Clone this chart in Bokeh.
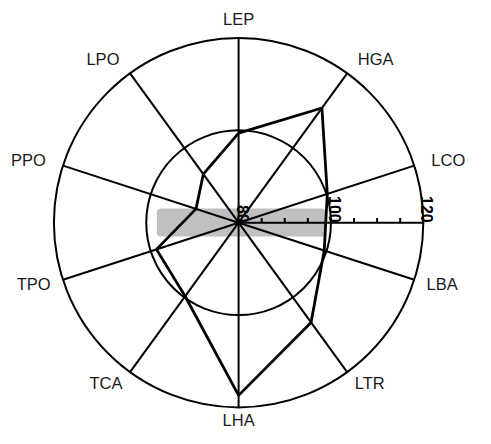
import numpy as np
from bokeh.plotting import figure
from bokeh.models import Range1d, ColumnDataSource, BoxAnnotation
from bokeh.core.properties import value
from bokeh.embed import file_html
from bokeh.resources import INLINE

# ---- data ----
categories = ["LEP", "HGA", "LCO", "LBA", "LTR", "LHA", "TCA", "TPO", "PPO", "LPO"]
values = [99.4, 110.7, 100.2, 99.5, 106.7, 117.4, 99.7, 98.7, 89.7, 93.0]
r_min, r_max = 80, 120
ring_values = [100, 120]
tick_values = [85, 90, 95, 100, 105, 110, 115, 120]
tick_label_values = [80, 100, 120]
tick_labels = ["80", "100", "120"]

# ---- geometry (1 data unit = K px) ----
K = 4.617
W, H = 475, 428
cx, cy = 238.1, 222.2
n = len(categories)
theta = np.pi / 2 - np.arange(n) * 2 * np.pi / n
R = r_max - r_min
FONT = value("Liberation Sans")

p = figure(width=W, height=H, output_backend="svg", toolbar_location=None,
           x_range=Range1d(-cx / K, (W - cx) / K), y_range=Range1d(-(H - cy) / K, cy / K),
           x_axis_type=None, y_axis_type=None, min_border=0)
p.grid.visible = False
p.outline_line_color = None
p.background_fill_color = "white"
p.border_fill_color = "white"

# grey box behind the centre
p.add_layout(BoxAnnotation(left=-17.7, right=18.8, top=3.1, bottom=-3.0,
                           fill_color="#c0c0c0", fill_alpha=1, line_color=None,
                           border_radius=4, level="underlay"))

# rings
rr = [v - r_min for v in ring_values]
p.circle(x=[0] * len(rr), y=[0] * len(rr), radius=rr, fill_color=None,
         line_color="black", line_width=2)

# spokes
p.segment(x0=[0] * n, y0=[0] * n, x1=list(R * np.cos(theta)), y1=list(R * np.sin(theta)),
          line_color="black", line_width=2)

# value axis
p.segment(x0=[0], y0=[0], x1=[R], y1=[0], line_color="black", line_width=2)
tv = [t - r_min for t in tick_values]
p.segment(x0=tv, y0=[0] * len(tv), x1=tv, y1=[1.0] * len(tv), line_color="black", line_width=2)
p.text(x=[t - r_min for t in tick_label_values], y=[0] * len(tick_labels), text=tick_labels,
       angle=-np.pi / 2, text_align="right", text_baseline="alphabetic", x_offset=4,
       text_font=FONT, text_font_size="16px", text_font_style="bold", text_color="black")

# data polygon
rv = np.array(values) - r_min
xs = list(rv * np.cos(theta)) + [rv[0] * np.cos(theta[0])]
ys = list(rv * np.sin(theta)) + [rv[0] * np.sin(theta[0])]
p.line(xs, ys, line_color="black", line_width=2.8)

# category labels
r_up, r_low = 43.9, 42.8
groups = {"left": [], "right": []}
for c, t in zip(categories, theta):
    co, si = np.cos(t), np.sin(t)
    if abs(co) < 0.1:
        continue
    rl = r_up if si > 0 else r_low
    groups["left" if co > 0 else "right"].append((c, rl * co, rl * si))
for key, items in groups.items():
    src = ColumnDataSource(dict(x=[i[1] for i in items], y=[i[2] for i in items],
                                t=[i[0] for i in items]))
    p.text(x="x", y="y", text="t", source=src, text_align=key, text_baseline="middle",
           text_font=FONT, text_font_size="16.5px", text_color="#1a1a1a")
p.text(x=[0], y=[44.1], text=[categories[0]], text_align="center", text_baseline="middle",
       text_font=FONT, text_font_size="16.5px", text_color="#1a1a1a")
p.text(x=[0], y=[-(H - cy) / K], text=[categories[5]], text_align="center", text_baseline="bottom",
       text_font=FONT, text_font_size="16.5px", text_color="#1a1a1a")

open("out.html", "w").write(file_html(p, INLINE))
